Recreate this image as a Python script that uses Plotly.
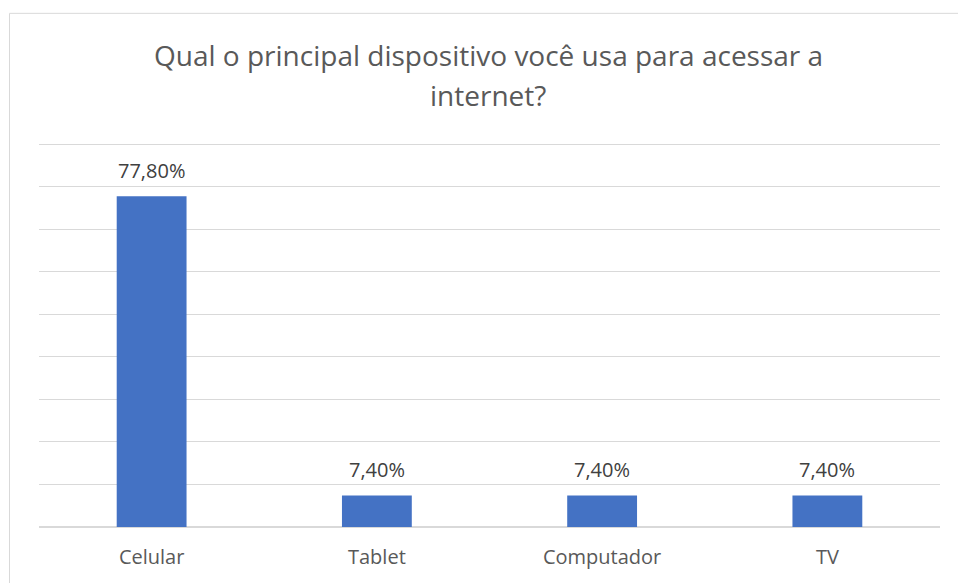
import plotly.graph_objects as go

categories = ["Celular", "Tablet", "Computador", "TV"]
values = [77.8, 7.4, 7.4, 7.4]
y_ticks = [0, 10, 20, 30, 40, 50, 60, 70, 80, 90]
title_lines = ["Qual o principal dispositivo você usa para acessar a", "internet?"]

W, H = 958, 583
Y_MAX = 91
L, R, B = 38.5, 18, 56
base_px = H - B
ph = (base_px - 144) * Y_MAX / 90
T = base_px - ph
FONT = "Open Sans"

fig = go.Figure(go.Bar(
    x=categories, y=values,
    marker=dict(color="#4472C4", line=dict(width=0)),
    width=0.31,
))

for c, v in zip(categories, values):
    fig.add_annotation(x=c, y=v, text=f"{v:.2f}%".replace(".", ","),
                       showarrow=False, yanchor="middle", yshift=26,
                       font=dict(family=FONT, size=20, color="#404040"))

pw = W - L - R

def py(ypix):
    return (base_px - ypix) / ph

for line, ypix in zip(title_lines, [55, 95]):
    fig.add_annotation(xref="paper", yref="paper", x=(488 - L) / pw, y=py(ypix),
                       text=line, showarrow=False, xanchor="center", yanchor="middle",
                       font=dict(family=FONT, size=28, color="#595959"))

fig.add_shape(type="rect", xref="paper", yref="paper",
              x0=(9 - L) / pw, x1=(W + 20 - L) / pw,
              y0=py(H + 20), y1=py(13),
              line=dict(color="#d9d9d9", width=1), fillcolor="rgba(0,0,0,0)", layer="below")

fig.update_layout(
    width=W, height=H,
    margin=dict(l=L, r=R, t=T, b=B),
    paper_bgcolor="white", plot_bgcolor="white",
    showlegend=False,
    xaxis=dict(showline=False, ticks="", tickfont=dict(family=FONT, size=20, color="#595959")),
    yaxis=dict(range=[0, Y_MAX], tickvals=y_ticks, showticklabels=False,
               showgrid=True, gridcolor="#d9d9d9", gridwidth=1,
               zeroline=True, zerolinecolor="#d9d9d9", zerolinewidth=1.5),
)
fig.update_xaxes(ticklabelstandoff=16)

fig.write_html("out.html")
